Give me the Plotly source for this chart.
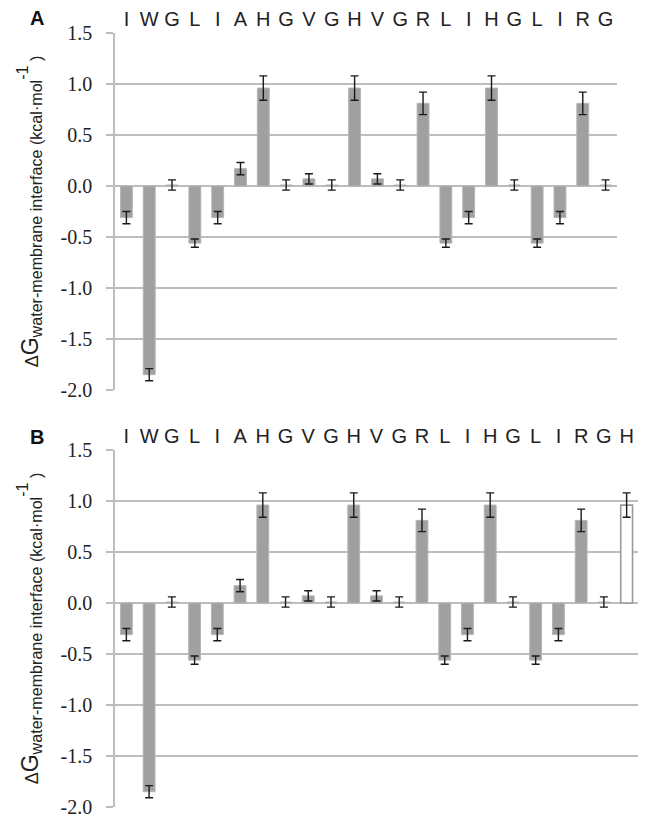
import plotly.graph_objects as go

residues_a = ["I", "W", "G", "L", "I", "A", "H", "G", "V", "G", "H", "V",
              "G", "R", "L", "I", "H", "G", "L", "I", "R", "G"]
dg_a = [-0.31, -1.85, 0.01, -0.56, -0.31, 0.17, 0.96, 0.01, 0.07, 0.01, 0.96, 0.07,
        0.01, 0.81, -0.56, -0.31, 0.96, 0.01, -0.56, -0.31, 0.81, 0.01]
err_a = [0.06, 0.06, 0.05, 0.04, 0.06, 0.06, 0.12, 0.05, 0.05, 0.05, 0.12, 0.05,
         0.05, 0.11, 0.04, 0.06, 0.12, 0.05, 0.04, 0.06, 0.11, 0.05]

residues_b = residues_a + ["H"]
dg_b = dg_a + [0.96]
err_b = err_a + [0.12]
# last residue of panel B drawn as open bar
open_b = [False] * len(residues_a) + [True]

ytick_vals = [1.5, 1.0, 0.5, 0.0, -0.5, -1.0, -1.5, -2.0]
ytick_text = ["1.5", "1.0", "0.5", "0.0", "-0.5", "-1.0", "-1.5", "-2.0"]

BAR = "#a0a0a0"
GRID = "#bdbdbd"

fig = go.Figure()

xa = list(range(len(residues_a)))
fig.add_trace(go.Bar(
    x=xa, y=dg_a, xaxis="x", yaxis="y",
    marker=dict(color=BAR, line=dict(color="#b4b4b4", width=1)),
    error_y=dict(type="data", array=err_a, color="#1a1a1a", thickness=1.4, width=4),
    showlegend=False, hoverinfo="skip",
))

xb = list(range(len(residues_b)))
fig.add_trace(go.Bar(
    x=xb, y=dg_b, xaxis="x2", yaxis="y2",
    marker=dict(color=["#ffffff" if o else BAR for o in open_b],
                line=dict(color=["#9a9a9a" if o else "#b4b4b4" for o in open_b],
                          width=[1.6 if o else 1 for o in open_b])),
    error_y=dict(type="data", array=err_b, color="#1a1a1a", thickness=1.4, width=4),
    showlegend=False, hoverinfo="skip",
))

L, R, T, B = 115, 11, 33, 11
W, H = 649, 818
pw = W - L - R
ph = H - T - B
xa_right = (617 - L) / pw
ya_bottom = 1 - (390 - T) / ph
yb_top = 1 - (450 - T) / ph

title_text = ("<span style='font-size:18px'>Δ</span>G"
              "<sub>water-membrane interface (kcal·mol</sub><sup>-1</sup><sub> )</sub>")

common_y = dict(
    range=[-2.0, 1.5], tickvals=ytick_vals, ticktext=ytick_text, automargin=False,
    showgrid=True, gridcolor=GRID, gridwidth=1.5, zeroline=False,
    showline=True, linecolor=GRID, linewidth=1.5,
    ticks="outside", ticklen=7, tickcolor=GRID, tickwidth=1.5,
    ticklabelstandoff=10,
    tickfont=dict(family="Times New Roman, Liberation Serif, serif", size=20, color="#222222"),
    title=dict(text=title_text, font=dict(family="Arial", size=23, color="#222222"),
               standoff=16),
)
common_x = dict(
    side="top", showgrid=False, zeroline=False, showline=False, ticks="",
    automargin=False, ticklabelstandoff=2,
    tickfont=dict(family="Arial", size=20, color="#222222"), tickangle=0,
)

fig.update_layout(
    width=W, height=H,
    margin=dict(l=L, r=R, t=T, b=B, autoexpand=False),
    paper_bgcolor="white", plot_bgcolor="white",
    bargap=0.48,
    xaxis=dict(domain=[0, xa_right], anchor="y",
               range=[-0.5, len(residues_a) - 0.5],
               tickvals=xa, ticktext=residues_a, **common_x),
    yaxis=dict(domain=[ya_bottom, 1], anchor="x", **common_y),
    xaxis2=dict(domain=[0, 1], anchor="y2",
                range=[-0.5, len(residues_b) - 0.5],
                tickvals=xb, ticktext=residues_b, **common_x),
    yaxis2=dict(domain=[0, yb_top], anchor="x2", **common_y),
    annotations=[
        dict(text="<b>A</b>", xref="paper", yref="paper", x=(37 - L) / pw, y=1 + (T - 18) / ph,
             showarrow=False, xanchor="center", yanchor="middle",
             font=dict(family="Arial", size=20, color="#111111")),
        dict(text="<b>B</b>", xref="paper", yref="paper", x=(37 - L) / pw, y=1 - (437 - T) / ph,
             showarrow=False, xanchor="center", yanchor="middle",
             font=dict(family="Arial", size=20, color="#111111")),
    ],
)

fig.write_html("out.html", config={"displayModeBar": False},
               post_script="document.body.style.margin='0';document.body.style.overflow='hidden';")
